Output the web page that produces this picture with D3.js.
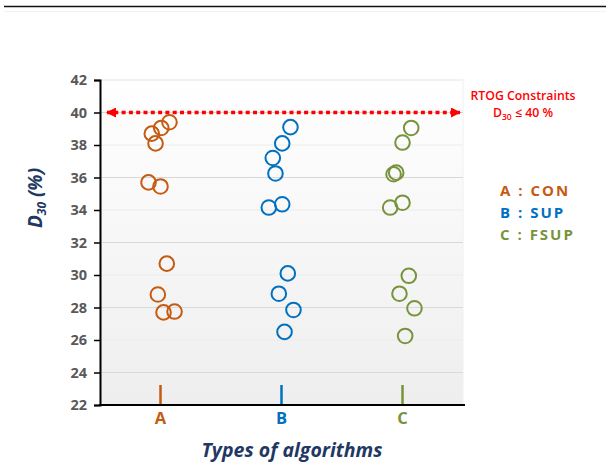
<!DOCTYPE html>
<html>
<head>
<meta charset="utf-8">
<script src="https://cdn.jsdelivr.net/npm/d3@7"></script>
<style>
  body { margin: 0; background: #fff; }
  svg { display: block; }
</style>
</head>
<body>
<div id="chart"></div>
<script>
// categories and their colours
const categories = ["A", "B", "C"];
const categoryNames = ["CON", "SUP", "FSUP"];
const categoryColors = ["#C55A11", "#0070C0", "#77933C"];

// D30 values per algorithm
const valuesA = [38.7, 39.05, 39.4, 38.1, 35.7, 35.45, 30.7, 28.8, 27.7, 27.75];
const valuesB = [39.1, 38.1, 37.2, 36.25, 34.15, 34.35, 30.1, 28.85, 27.85, 26.5];
const valuesC = [39.05, 38.15, 36.2, 36.3, 34.15, 34.45, 29.95, 28.85, 27.95, 26.25];

// horizontal jitter, as a fraction of the category band
const jitterA = [-0.072, 0.006, 0.074, -0.041, -0.099, 0.0, 0.052, -0.022, 0.025, 0.116];
const jitterB = [0.074, 0.006, -0.072, -0.050, -0.105, 0.006, 0.052, -0.022, 0.099, 0.025];
const jitterC = [0.072, 0.0, -0.074, -0.052, -0.102, 0.0, 0.052, -0.025, 0.099, 0.022];

const yTicks = [22, 24, 26, 28, 30, 32, 34, 36, 38, 40, 42];
const majorGrid = [24, 28, 32, 36, 40];
const constraintValue = 40;

const series = [valuesA, valuesB, valuesC];
const jitters = [jitterA, jitterB, jitterC];

const W = 606, H = 468;
const margin = { top: 80, right: 143, bottom: 63, left: 100 };
const width = W - margin.left - margin.right;
const height = H - margin.top - margin.bottom;

const svg = d3.select("#chart").append("svg")
    .attr("width", W)
    .attr("height", H);

// page header rule
svg.append("line").attr("x1", 4).attr("x2", W).attr("y1", 6.5).attr("y2", 6.5)
    .attr("stroke", "#111").attr("stroke-width", 1.6);
svg.append("line").attr("x1", 4).attr("x2", W).attr("y1", 11.5).attr("y2", 11.5)
    .attr("stroke", "#f2f2f2").attr("stroke-width", 1);

const defs = svg.append("defs");
const grad = defs.append("linearGradient")
    .attr("id", "bg").attr("x1", 0).attr("x2", 0).attr("y1", 0).attr("y2", 1);
grad.append("stop").attr("offset", "0%").attr("stop-color", "#ffffff");
grad.append("stop").attr("offset", "100%").attr("stop-color", "#eeeeee");

defs.append("marker")
    .attr("id", "arrow")
    .attr("viewBox", "0 0 10 10")
    .attr("refX", 9).attr("refY", 5)
    .attr("markerUnits", "userSpaceOnUse")
    .attr("markerWidth", 11).attr("markerHeight", 10)
    .attr("orient", "auto-start-reverse")
    .append("path")
    .attr("d", "M0,0 L10,5 L0,10 Z")
    .attr("fill", "#FF0000");

const g = svg.append("g")
    .attr("transform", `translate(${margin.left},${margin.top})`);

// Scales
const x = d3.scaleBand()
    .domain(categories)
    .range([0, width]);

const y = d3.scaleLinear()
    .domain([22, 42])
    .range([height, 0]);

// plot background
g.append("rect")
    .attr("width", width)
    .attr("height", height)
    .attr("fill", "url(#bg)")
    .attr("stroke", "#f0f0f0");

// Grid lines
g.append("g")
    .selectAll("line")
    .data(yTicks.filter(t => t > 22))
    .enter().append("line")
    .attr("x1", 0).attr("x2", width)
    .attr("y1", d => y(d)).attr("y2", d => y(d))
    .attr("stroke", d => majorGrid.includes(d) ? "#d9d9d9" : "#ececec")
    .attr("stroke-width", 1);

// Y axis
const yAxis = g.append("g")
    .call(d3.axisLeft(y).tickValues(yTicks).tickSize(6).tickPadding(7))
    .style("font-family", "'Open Sans', sans-serif")
    .style("font-size", "14.5px")
    .style("font-weight", "bold");
yAxis.select(".domain").attr("stroke", "#000").attr("stroke-width", 2);
yAxis.selectAll(".tick line").attr("stroke", "#000").attr("stroke-width", 1.5);
yAxis.selectAll(".tick text").attr("fill", "#595959");

// X axis line
g.append("line")
    .attr("x1", -1).attr("x2", width + 2)
    .attr("y1", height).attr("y2", height)
    .attr("stroke", "#000").attr("stroke-width", 2);

// coloured category ticks and labels
categories.forEach((c, i) => {
    const cx = x(c) + x.bandwidth() / 2;
    g.append("line")
        .attr("x1", cx).attr("x2", cx)
        .attr("y1", height - 20).attr("y2", height - 1)
        .attr("stroke", categoryColors[i]).attr("stroke-width", 2.5);
    g.append("text")
        .attr("x", cx).attr("y", height + 18.5)
        .attr("text-anchor", "middle")
        .attr("fill", categoryColors[i])
        .style("font-family", "'Open Sans', sans-serif")
        .style("font-size", "16.5px")
        .style("font-weight", "bold")
        .text(c);
});

// Constraint line with arrows
g.append("line")
    .attr("x1", 7).attr("x2", width - 3)
    .attr("y1", y(constraintValue)).attr("y2", y(constraintValue))
    .attr("stroke", "#FF0000")
    .attr("stroke-width", 3.5)
    .attr("stroke-dasharray", "4 3.3")
    .attr("marker-start", "url(#arrow)")
    .attr("marker-end", "url(#arrow)");

// Points
series.forEach((vals, i) => {
    const c = categories[i];
    g.append("g")
        .selectAll("circle")
        .data(vals.map((v, j) => ({ v, j: jitters[i][j] })))
        .enter().append("circle")
        .attr("cx", d => x(c) + x.bandwidth() / 2 + d.j * x.bandwidth())
        .attr("cy", d => y(d.v))
        .attr("r", 7.3)
        .attr("fill", "none")
        .attr("stroke", categoryColors[i])
        .attr("stroke-width", 2);
});

// Y title: D30 (%)
const yTitle = svg.append("text")
    .attr("transform", `translate(42,198) rotate(-90)`)
    .attr("text-anchor", "middle")
    .attr("fill", "#1F3864")
    .style("font-family", "'Open Sans', sans-serif")
    .style("font-size", "19px")
    .style("font-weight", "bold")
    .style("font-style", "italic");
yTitle.append("tspan").text("D");
yTitle.append("tspan").attr("dy", 4).style("font-size", "12px").text("30");
yTitle.append("tspan").attr("dy", -4).text(" (%)");

// X title
svg.append("text")
    .attr("x", 292).attr("y", 457)
    .attr("text-anchor", "middle")
    .attr("fill", "#1F3864")
    .style("font-family", "'Open Sans', sans-serif")
    .style("font-size", "19.5px")
    .style("font-weight", "bold")
    .style("font-style", "italic")
    .text("Types of algorithms");

// Constraint annotation
const note = svg.append("g")
    .attr("fill", "#FF0000")
    .style("font-family", "'Open Sans', sans-serif")
    .style("font-size", "12.3px")
    .style("font-weight", "600");
note.append("text").attr("x", 523).attr("y", 100).attr("text-anchor", "middle")
    .text("RTOG Constraints");
const n2 = note.append("text").attr("x", 523).attr("y", 117).attr("text-anchor", "middle");
n2.append("tspan").text("D");
n2.append("tspan").attr("dy", 2.5).style("font-size", "8.5px").text("30");
n2.append("tspan").attr("dy", -2.5).text(" \u2264 40 %");

// Legend
const legend = svg.append("g")
    .style("font-family", "'Open Sans', sans-serif")
    .style("font-size", "15px")
    .style("font-weight", "bold")
    .style("letter-spacing", "2px");
categories.forEach((c, i) => {
    legend.append("text")
        .attr("x", 500).attr("y", 196 + i * 22)
        .attr("fill", categoryColors[i])
        .text(`${c} : ${categoryNames[i]}`);
});
</script>
</body>
</html>
